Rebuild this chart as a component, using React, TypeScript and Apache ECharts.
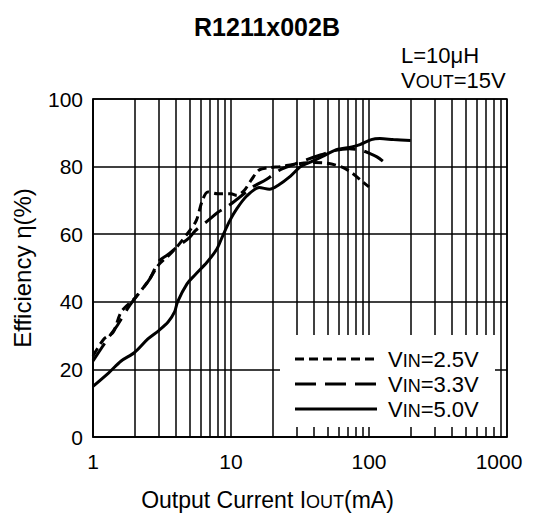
import React, { useEffect, useRef } from "react";
import * as echarts from "echarts";

const FONT = "'Liberation Sans', Arial, Helvetica, sans-serif";

const xTickValues = [1, 10, 100, 1000];
const minorGridValues = [2, 3, 4, 5, 6, 7, 8, 9, 20, 30, 40, 50, 60, 70, 80, 90, 200, 300, 400, 500, 600, 700, 800, 900];

const current25 = [1, 1.2, 1.4, 1.6, 2, 2.5, 3, 3.6, 4.2, 5, 5.6, 6.2, 6.8, 8, 10, 11, 12.5, 14, 16, 19, 23, 30, 40, 50, 65, 76, 90, 100];
const eff25 = [24, 29, 31, 37, 41, 46, 51, 54, 57, 61, 64, 70, 72.5, 72, 72, 71.5, 73, 76, 79, 79.7, 80, 80.8, 81.2, 81, 79.7, 78, 75.5, 74];

const current33 = [1, 1.3, 1.5, 1.85, 2.2, 2.6, 3, 3.5, 4, 5, 5.5, 6.8, 8, 9.5, 11.6, 14.4, 18, 22.6, 28, 35, 45, 57, 72, 88, 100, 115, 126];
const eff33 = [22.5, 29.5, 33, 39, 43, 47, 52, 54, 56, 59, 61, 64, 66.4, 68.3, 71, 74, 76.2, 79, 80.5, 82, 83.5, 84.8, 85.3, 84.8, 84, 82.8, 81.6];

const current50 = [1, 1.3, 1.6, 2, 2.5, 3, 3.5, 3.9, 4.1, 4.8, 5.5, 6.7, 7.9, 8.6, 9.8, 11, 13, 16, 19, 22, 27, 32, 39, 46, 58, 75, 86, 104, 120, 150, 200];
const eff50 = [15, 19, 22.5, 25, 29, 31.5, 34, 37, 40, 45.3, 48, 51.7, 55.6, 59, 64, 67.5, 71.3, 73.8, 73.3, 74.5, 77.2, 80, 81.6, 83, 85, 85.8, 86.5, 88, 88.3, 88, 87.7];

const seriesNames = ["VIN=2.5V", "VIN=3.3V", "VIN=5.0V"];
const legendLabels = [
  "{v|V}{s|IN}{v|=2.5V}",
  "{v|V}{s|IN}{v|=3.3V}",
  "{v|V}{s|IN}{v|=5.0V}",
];
const dashTypes: any[] = [[9, 5], [21, 9], "solid"];

const zip = (xs: number[], ys: number[]) => xs.map((x, i) => [x, ys[i]]);

const FS = 22;
const SUB = 18;
const TICK_FS = 21;
const NAME_FS = 23;
const mkRich = (fs: number, sub: number) => ({
  v: { fontSize: fs, fontFamily: FONT, color: "#000", verticalAlign: "bottom" as const },
  s: { fontSize: sub, fontFamily: FONT, color: "#000", verticalAlign: "bottom" as const },
});
const rich = mkRich(FS, SUB);

export default function App() {
  const ref = useRef<HTMLDivElement>(null);
  useEffect(() => {
    if (!ref.current) return;
    const chart = echarts.init(ref.current, undefined, { renderer: "svg" });
    const legendX1 = 295;
    const legendX2 = 377;
    const legendYs = [359, 384, 409];
    const option: any = {
      animation: false,
      backgroundColor: "#fff",
      title: {
        text: "R1211x002B",
        left: "center",
        top: 9,
        textStyle: { fontSize: 25, fontWeight: "bold", fontFamily: FONT, color: "#000" },
      },
      grid: {
        left: 93,
        top: 99,
        right: 27,
        bottom: 77,
        show: true,
        borderColor: "#000",
        borderWidth: 1.5,
        backgroundColor: "transparent",
      },
      xAxis: {
        type: "log",
        logBase: 10,
        min: xTickValues[0],
        max: xTickValues[xTickValues.length - 1],
        name: "{v|Output Current I}{s|OUT}{v|(mA)}",
        nameLocation: "middle",
        nameGap: 51,
        nameTextStyle: {
          fontSize: NAME_FS,
          fontFamily: FONT,
          color: "#000",
          padding: [0, 65, 0, 0],
          rich: mkRich(NAME_FS, 18),
        },
        axisLine: { show: true, lineStyle: { color: "#000", width: 1.5 } },
        axisTick: { show: false },
        axisLabel: {
          fontSize: TICK_FS,
          fontFamily: FONT,
          color: "#000",
          margin: 14,
          formatter: (v: number) => (v === xTickValues[xTickValues.length - 1] ? `{e|${v}}` : `${v}`),
          rich: {
            e: { fontSize: TICK_FS, fontFamily: FONT, color: "#000", padding: [0, 16, 0, 0] },
          },
        },
        splitLine: { show: true, lineStyle: { color: "#000", width: 1.5 } },
        minorTick: { show: false },
      },
      yAxis: {
        type: "value",
        min: 0,
        max: 100,
        interval: 20,
        name: "Efficiency η(%)",
        nameLocation: "middle",
        nameGap: 59,
        nameRotate: 90,
        nameTextStyle: { fontSize: 24, fontFamily: FONT, color: "#000" },
        axisLine: { show: true, lineStyle: { color: "#000", width: 1.5 } },
        axisTick: { show: false },
        axisLabel: { fontSize: TICK_FS, fontFamily: FONT, color: "#000", margin: 10 },
        splitLine: { show: true, lineStyle: { color: "#000", width: 1.5 } },
      },
      series: [
        { data: zip(current25, eff25) },
        { data: zip(current33, eff33) },
        { data: zip(current50, eff50) },
      ].map((s, i) => ({
        type: "line",
        name: seriesNames[i],
        data: s.data,
        showSymbol: false,
        symbol: "none",
        smooth: 0.3,
        z: 5,
        lineStyle: { color: "#000", width: 3, type: dashTypes[i] },
        ...(i === 2
          ? {
              markLine: {
                silent: true,
                symbol: ["none", "none"],
                label: { show: false },
                z: 1,
                lineStyle: { color: "#000", width: 1.5, type: "solid" },
                data: minorGridValues.map((v) => ({ xAxis: v })),
              },
            }
          : {}),
      })),
      graphic: [
        {
          type: "rect",
          z: 100,
          shape: { x: 280, y: 335, width: 215, height: 92 },
          style: { fill: "#fff" },
        },
        ...legendYs.map((y, i) => ({
          type: "line",
          z: 101,
          shape: { x1: legendX1, y1: y, x2: legendX2, y2: y },
          style: {
            stroke: "#000",
            lineWidth: 3,
            lineDash: Array.isArray(dashTypes[i]) ? dashTypes[i] : null,
          },
        })),
        ...legendYs.map((y, i) => ({
          type: "text",
          z: 101,
          x: 388,
          y: y,
          style: {
            text: legendLabels[i],
            rich,
            fontSize: FS,
            fontFamily: FONT,
            fill: "#000",
            verticalAlign: "middle",
            align: "left",
          },
        })),
        {
          type: "text",
          z: 101,
          x: 401,
          y: 55,
          style: {
            text: "L=10μH",
            fontSize: FS,
            fontFamily: FONT,
            fill: "#000",
            verticalAlign: "middle",
            align: "left",
          },
        },
        {
          type: "text",
          z: 101,
          x: 401,
          y: 80,
          style: {
            text: "{v|V}{s|OUT}{v|=15V}",
            rich,
            fontSize: FS,
            fontFamily: FONT,
            fill: "#000",
            verticalAlign: "middle",
            align: "left",
          },
        },
      ],
    };
    chart.setOption(option);
    return () => chart.dispose();
  }, []);
  return (
    <div
      ref={ref}
      style={{ position: "fixed", left: 0, top: 0, width: 534, height: 516, background: "#fff" }}
    />
  );
}
